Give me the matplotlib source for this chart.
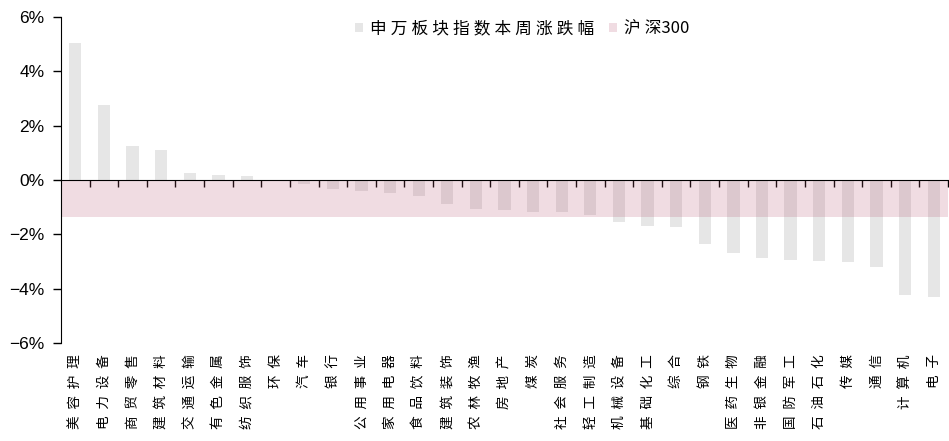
import matplotlib
matplotlib.use("Agg")
import matplotlib.pyplot as plt
from matplotlib.transforms import blended_transform_factory
import numpy as np

plt.rcParams['font.family'] = ['Noto Sans CJK SC', 'DejaVu Sans']
plt.rcParams['axes.unicode_minus'] = True

# 申万一级行业本周涨跌幅(%)
sectors = ['美容护理', '电力设备', '商贸零售', '建筑材料', '交通运输', '有色金属', '纺织服饰',
           '环保', '汽车', '银行', '公用事业', '家用电器', '食品饮料', '建筑装饰', '农林牧渔',
           '房地产', '煤炭', '社会服务', '轻工制造', '机械设备', '基础化工', '综合', '钢铁',
           '医药生物', '非银金融', '国防军工', '石油石化', '传媒', '通信', '计算机', '电子']
weekly_chg = [5.05, 2.76, 1.25, 1.09, 0.25, 0.20, 0.15,
              -0.04, -0.15, -0.32, -0.42, -0.48, -0.58, -0.87, -1.08,
              -1.10, -1.17, -1.18, -1.29, -1.53, -1.68, -1.74, -2.37,
              -2.70, -2.87, -2.93, -2.99, -3.03, -3.20, -4.23, -4.29]
hs300_chg = -1.35
yticks = [-6, -4, -2, 0, 2, 4, 6]

bar_color = '#e6e6e6'
band_color = (0.71, 0.33, 0.43, 0.2)

fig = plt.figure(figsize=(9.49, 4.41), dpi=100)
ax = fig.add_axes([61 / 949, 1 - 343 / 441, 887 / 949, 326 / 441])

x = np.arange(len(sectors))
bars = ax.bar(x, weekly_chg, width=0.43, color=bar_color, zorder=1)
band = ax.fill_between([-0.5, len(sectors) - 0.5], 0, hs300_chg, color=band_color,
                       linewidth=0, zorder=2)

ax.set_xlim(-0.5, len(sectors) - 0.5)
ax.set_ylim(-6, 6)
ax.set_yticks(yticks)
ax.set_yticklabels([f'{v}%'.replace('-', '\u2212') for v in yticks],
                   family='Liberation Sans', fontsize=12.5)
ax.tick_params(axis='y', direction='out', length=6, width=1, pad=6)

# x轴放在0处, 刻度在分类边界
ax.spines['bottom'].set_position(('data', 0))
ax.spines['top'].set_visible(False)
ax.spines['right'].set_visible(False)
ax.set_xticks(np.arange(0.5, len(sectors), 1))
ax.set_xticklabels([])
ax.tick_params(axis='x', direction='out', length=5, width=1)

# 行业名竖排放在图下方
trans = blended_transform_factory(ax.transData, ax.transAxes)
for i, name in enumerate(sectors):
    ax.text(i, -0.035, '\u2002'.join(name), transform=trans, rotation=90,
            ha='center', va='top', fontsize=9.8, clip_on=False)

leg_labels = ['\u2005'.join('申万板块指数本周涨跌幅'), '沪\u2005深300']
fig.legend([bars, band], leg_labels, loc='center', bbox_to_anchor=(522 / 949, 1 - 29 / 441),
           ncol=2, frameon=False, handlelength=0.5, handleheight=0.5,
           handletextpad=0.4, columnspacing=0.9, prop={'size': 12})

fig.savefig('out.png', dpi=100)
